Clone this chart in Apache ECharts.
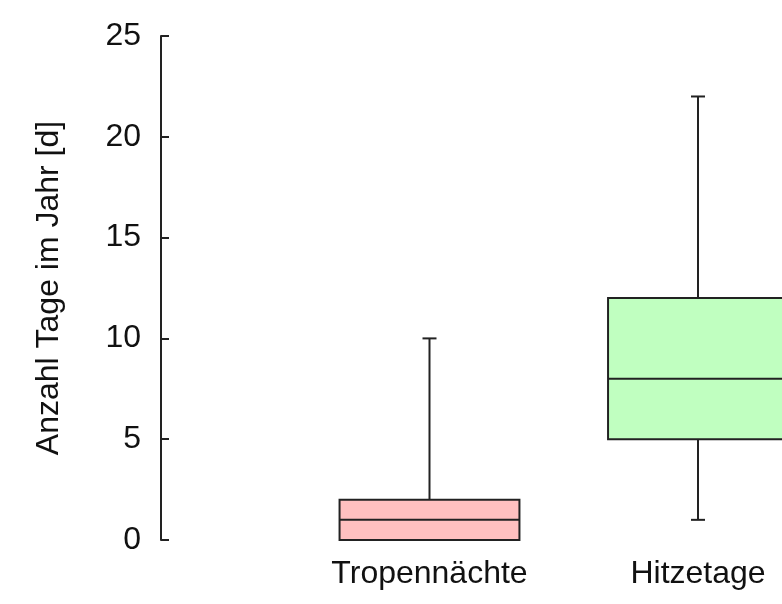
<!DOCTYPE html>
<html>
<head>
<meta charset="utf-8">
<script src="https://cdn.jsdelivr.net/npm/echarts@6/dist/echarts.min.js"></script>
<style>
  html, body { margin: 0; padding: 0; background: #fff; }
  #chart { width: 782px; height: 604px; }
</style>
</head>
<body>
<div id="chart"></div>
<script>
// Categories (index 0 is the empty slot at the y axis)
const categories = ['', 'Tropennächte', 'Hitzetage'];
// Five-number summaries per category: [min, Q1, median, Q3, max]
const minValues    = [0, 1];
const q1Values     = [0, 5];
const medianValues = [1, 8];
const q3Values     = [2, 12];
const maxValues    = [10, 22];
const boxColors    = ['#ffc0c0', '#c0ffc0'];
const yTicks = [0, 5, 10, 15, 20, 25];

const boxData = minValues.map((v, i) => [i + 1, v, q1Values[i], medianValues[i], q3Values[i], maxValues[i]]);

const FONT = '"Liberation Sans", Arial, Helvetica, sans-serif';
const LINE = '#222';
const TEXT = '#111';

const chart = echarts.init(document.getElementById('chart'), null, { renderer: 'canvas' });

chart.setOption({
  animation: false,
  backgroundColor: '#fff',
  grid: { left: 161, right: 84, top: 36, bottom: 64, containLabel: false },
  xAxis: {
    type: 'category',
    data: categories,
    boundaryGap: false,
    axisLine: { show: false },
    axisTick: { show: false },
    splitLine: { show: false },
    axisLabel: { fontFamily: FONT, fontSize: 32, color: TEXT, margin: 18 }
  },
  yAxis: {
    type: 'value',
    min: yTicks[0],
    max: yTicks[yTicks.length - 1],
    interval: 5,
    name: 'Anzahl Tage im Jahr [d]',
    nameLocation: 'middle',
    nameRotate: 90,
    nameGap: 96,
    nameTextStyle: { fontFamily: FONT, fontSize: 32, color: TEXT },
    axisLine: { show: true, lineStyle: { color: LINE, width: 2 } },
    axisTick: { show: true, inside: true, length: 8, lineStyle: { color: LINE, width: 2 } },
    splitLine: { show: false },
    axisLabel: { fontFamily: FONT, fontSize: 32, color: TEXT, margin: 20 }
  },
  series: [{
    type: 'custom',
    clip: false,
    data: boxData,
    renderItem: function (params, api) {
      const x = api.value(0);
      const pMin = api.coord([x, api.value(1)]);
      const pQ1 = api.coord([x, api.value(2)]);
      const pMed = api.coord([x, api.value(3)]);
      const pQ3 = api.coord([x, api.value(4)]);
      const pMax = api.coord([x, api.value(5)]);
      const step = api.size([1, 0])[0];
      const half = step * 0.335;
      const cap = 7;
      const cx = pMed[0];
      const lineStyle = { stroke: LINE, lineWidth: 2, fill: null };
      return {
        type: 'group',
        children: [
          { type: 'line', shape: { x1: cx, y1: pQ3[1], x2: cx, y2: pMax[1] }, style: lineStyle },
          { type: 'line', shape: { x1: cx - cap, y1: pMax[1], x2: cx + cap, y2: pMax[1] }, style: lineStyle },
          { type: 'line', shape: { x1: cx, y1: pQ1[1], x2: cx, y2: pMin[1] }, style: lineStyle },
          { type: 'line', shape: { x1: cx - cap, y1: pMin[1], x2: cx + cap, y2: pMin[1] }, style: lineStyle },
          {
            type: 'rect',
            shape: { x: cx - half, y: pQ3[1], width: half * 2, height: pQ1[1] - pQ3[1] },
            style: { fill: boxColors[params.dataIndex], stroke: LINE, lineWidth: 2 }
          },
          { type: 'line', shape: { x1: cx - half, y1: pMed[1], x2: cx + half, y2: pMed[1] }, style: lineStyle }
        ]
      };
    }
  }]
});
</script>
</body>
</html>
